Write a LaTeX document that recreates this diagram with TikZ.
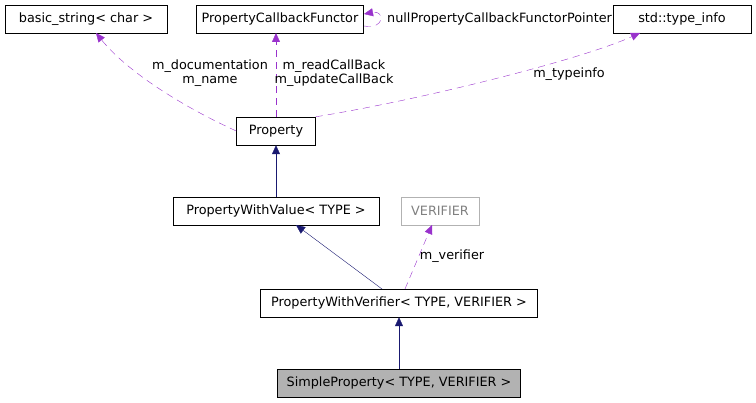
\documentclass[tikz,border=0pt]{standalone}
\usepackage{fontspec}
\setmainfont{DejaVu Sans}
\usetikzlibrary{arrows.meta}
\begin{document}
\begin{tikzpicture}[x=1pt,y=-1pt,
  cls/.style={draw=black,fill=white,minimum height=28pt,inner sep=0pt,font=\fontsize{12.8}{14}\selectfont},
  inh/.style={draw={rgb,255:red,25;green,25;blue,112},-{Triangle[length=9pt,width=8pt]}},
  use/.style={draw={rgb,255:red,153;green,50;blue,204},dash pattern=on 7pt off 5pt,-{Triangle[length=9pt,width=8pt]}},
  lbl/.style={font=\fontsize{12.8}{14}\selectfont,inner sep=1pt,align=center}]
\useasboundingbox (0,0) rectangle (756,403);
\node[cls,minimum width=162pt] (bs) at (86,19) {basic\_string< char >};
\node[cls,minimum width=167pt] (pcf) at (280,19) {PropertyCallbackFunctor};
\node[cls,minimum width=138pt] (ti) at (682,19) {std::type\_info};
\node[cls,minimum width=79pt] (p) at (276,131) {Property};
\node[cls,minimum width=206pt] (pwv) at (276,211) {PropertyWithValue< TYPE >};
\node[cls,minimum width=78pt,draw=gray!60,text=gray] (v) at (440,211) {VERIFIER};
\node[cls,minimum width=277pt] (pwr) at (399,303) {PropertyWithVerifier< TYPE, VERIFIER >};
\node[cls,minimum width=243pt,fill=gray!60] (sp) at (399,383) {SimpleProperty< TYPE, VERIFIER >};
\draw[use] (p.west) .. controls (190,110) and (130,75) .. (96,33);
\draw[use] (p.north) -- (276,33);
\draw[use] (364,26) .. controls (385,30) and (385,10) .. (364,14);
\draw[use] (p.north east) .. controls (420,100) and (580,60) .. (640,33);
\draw[use] (405,289) -- (432,225);
\draw[inh] (p.south|-pwv.north) -- (p.south);
\draw[inh] (382,289) -- (296,225);
\draw[inh] (sp.north) -- (pwr.south);
\node[lbl] (l1) at (210,73) {m\_documentation\\m\_name};
\node[lbl] (l2) at (334,73) {m\_readCallBack\\m\_updateCallBack};
\node[lbl,anchor=west] (l3) at (386,19) {nullPropertyCallbackFunctorPointer};
\node[lbl] (l4) at (569,74) {m\_typeinfo};
\node[lbl] (l5) at (452,256) {m\_verifier};
\end{tikzpicture}
\end{document}
